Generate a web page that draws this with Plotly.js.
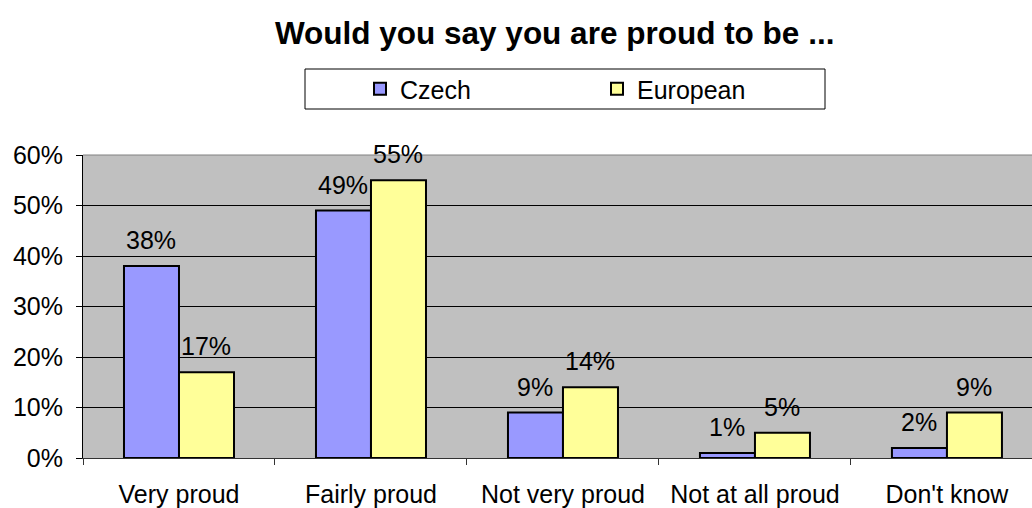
<!DOCTYPE html>
<html><head><meta charset="utf-8">
<script src="https://cdn.plot.ly/plotly-3.0.1.min.js"></script>
<style>html,body{margin:0;padding:0;background:#fff}#c{width:1032px;height:508px}</style>
</head><body><div id="c"></div>
<script>
const categories = ["Very proud", "Fairly proud", "Not very proud", "Not at all proud", "Don't know"];
const czech = [38, 49, 9, 1, 2];
const european = [17, 55, 14, 5, 9];
const yTicks = [0, 10, 20, 30, 40, 50, 60];
const yTickLabels = yTicks.map(v => v + '%');

const FONT = 'Arial, Liberation Sans, sans-serif';
const common = {type: 'bar', x: categories, hoverinfo: 'none'};
const data = [
  Object.assign({}, common, {name: 'Czech', y: czech, marker: {color: '#9999FF', line: {color: '#000', width: 2}}}),
  Object.assign({}, common, {name: 'European', y: european, marker: {color: '#FFFF99', line: {color: '#000', width: 2}}})
];
const annotations = [];
[[czech, -27.5], [european, 27.5]].forEach(([vals, dx]) => {
  vals.forEach((v, i) => annotations.push({
    x: categories[i], y: v, xref: 'x', yref: 'y', text: v + '%', showarrow: false,
    xanchor: 'center', yanchor: 'middle', xshift: dx, yshift: 26,
    font: {family: FONT, size: 25, color: '#000'}
  }));
});
const px = v => (v - 83) / 949, py = v => (458 - v) / 303;
const layout = {
  width: 1032, height: 508,
  margin: {l: 83, r: 0, t: 155, b: 50},
  paper_bgcolor: '#fff',
  plot_bgcolor: '#C0C0C0',
  font: {family: FONT, size: 25, color: '#000'},
  title: {text: '<b>Would you say you are proud to be ...</b>', font: {size: 31.5}, x: 0.497, xref: 'paper', xanchor: 'center', y: 1 - 33/508, yref: 'container', yanchor: 'middle'},
  barmode: 'group',
  bargap: 0.427,
  bargroupgap: 0,
  showlegend: true,
  legend: {orientation: 'h', x: px(360), xanchor: 'left', y: py(66), yanchor: 'top', bgcolor: 'rgba(0,0,0,0)', borderwidth: 0, entrywidth: 192, font: {size: 25}, itemclick: false},
  annotations: annotations,
  xaxis: {
    type: 'category', range: [-0.5, 4.443], fixedrange: true,
    showline: true, linecolor: '#333', linewidth: 1,
    ticks: 'outside', tickson: 'boundaries', ticklen: 6, tickcolor: '#333',
    ticklabelstandoff: 14, showgrid: false
  },
  yaxis: {
    range: [0, 60], tickvals: yTicks, ticktext: yTickLabels, fixedrange: true,
    showline: true, linecolor: '#000', linewidth: 1,
    ticks: 'outside', ticklen: 6, tickcolor: '#000', ticklabelstandoff: 8,
    showgrid: true, gridcolor: '#000', gridwidth: 1, zeroline: false
  },
  shapes: [
    {type: 'line', xref: 'paper', yref: 'paper', x0: 0, x1: 1, y0: 1, y1: 1, line: {color: '#808080', width: 1}},
    {type: 'rect', xref: 'paper', yref: 'paper', x0: px(305), x1: px(825), y0: py(109), y1: py(69), fillcolor: '#fff', line: {color: '#000', width: 1}}
  ]
};
Plotly.newPlot('c', data, layout, {staticPlot: true});
</script></body></html>
